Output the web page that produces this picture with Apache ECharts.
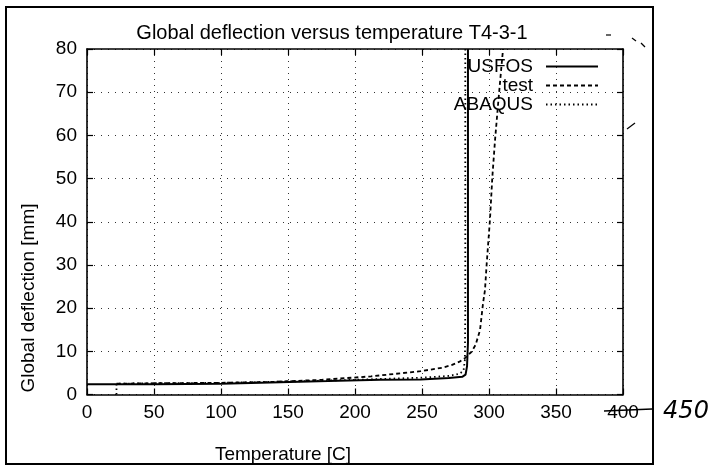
<!DOCTYPE html>
<html>
<head>
<meta charset="utf-8">
<script src="https://cdn.jsdelivr.net/npm/echarts@6/dist/echarts.min.js"></script>
<style>html,body{margin:0;padding:0;background:#fff}#c{width:718px;height:466px}</style>
</head>
<body>
<div id="c"></div>
<script>
// Data
const xTicks = [0, 50, 100, 150, 200, 250, 300, 350, 400];
const yTicks = [0, 10, 20, 30, 40, 50, 60, 70, 80];
const usfos = [[0,2.4],[50,2.4],[100,2.5],[137,2.8],[180,3.1],[219,3.4],[249,3.5],[270,3.8],[280,4.1],[282.5,4.6],[283.6,6.5],[284.3,12],[284.3,80]];
const test = [[22,2.5],[50,2.6],[100,2.7],[137,2.9],[175,3.4],[212,4.2],[249,5.4],[265,6.2],[272,6.8],[278,7.6],[282,8.4],[287,9.9],[290,11.5],[293.3,14.9],[295.5,21],[297,24.2],[298.3,30.4],[300.7,40.4],[302.5,50.4],[304.5,58.9],[307,68],[309.5,76.7],[310.5,80]];
const abaqus = [[22,0],[22,2.5],[50,2.6],[100,2.7],[150,3.0],[200,3.4],[250,3.9],[270,4.3],[278,4.8],[281,5.5],[282,8],[282.3,20],[282.3,80]];
const seriesNames = ['USFOS', 'test', 'ABAQUS'];

const FONT = '"Liberation Sans", Arial, Helvetica, sans-serif';
const FS = 19;
const chart = echarts.init(document.getElementById('c'), null, {renderer: 'canvas'});

const axisCommon = {
  min: 0,
  axisLine: {show: true, onZero: false, lineStyle: {color: '#000', width: 1.6}},
  axisTick: {show: true, inside: true, length: 6, lineStyle: {color: '#000', width: 1.2}},
};
const lineStyles = [
  {color: '#000', width: 2, type: 'solid'},
  {color: '#000', width: 1.8, type: [4, 3]},
  {color: '#000', width: 1.8, type: [1.5, 3]}
];
const dataSets = [usfos, test, abaqus];
const legendTops = [52, 71, 90];

chart.setOption({
  animation: false,
  backgroundColor: '#fff',
  title: {
    text: 'Global deflection versus temperature T4-3-1',
    left: 327, top: 18, textAlign: 'center',
    textStyle: {fontFamily: FONT, fontSize: 20, fontWeight: 'normal', color: '#000'}
  },
  grid: {left: 87, right: 95, top: 49, bottom: 71.5},
  legend: seriesNames.map((n, i) => ({
    data: [n], right: 114, top: legendTops[i], align: 'right',
    itemWidth: 52, itemHeight: 10, selectedMode: false,
    itemStyle: {opacity: 0},
    textStyle: {fontFamily: FONT, fontSize: FS, color: '#000', padding: [0, 8, 0, 0]}
  })),
  xAxis: [
    Object.assign({}, axisCommon, {
      type: 'value', max: 400, interval: 50, position: 'bottom',
      axisLabel: {margin: 9, fontFamily: FONT, fontSize: FS, color: '#000',
        formatter: v => xTicks.includes(v) ? String(v) : ''},
      splitLine: {show: true, lineStyle: {color: '#333', width: 1, type: [1, 5]}}
    }),
    Object.assign({}, axisCommon, {
      type: 'value', max: 400, interval: 50, position: 'top',
      axisLabel: {show: false}, splitLine: {show: false}
    })
  ],
  yAxis: [
    Object.assign({}, axisCommon, {
      type: 'value', max: 80, interval: 10, position: 'left',
      axisLabel: {margin: 10, fontFamily: FONT, fontSize: FS, color: '#000',
        formatter: v => yTicks.includes(v) ? String(v) : ''},
      splitLine: {show: true, lineStyle: {color: '#333', width: 1, type: [1, 6]}}
    }),
    Object.assign({}, axisCommon, {
      type: 'value', max: 80, interval: 10, position: 'right',
      axisLabel: {show: false}, splitLine: {show: false}
    })
  ],
  series: seriesNames.map((n, i) => ({
    name: n, type: 'line', data: dataSets[i], symbol: 'none', showSymbol: false,
    xAxisIndex: 0, yAxisIndex: 0, lineStyle: lineStyles[i], itemStyle: {color: '#000'},
    z: 3 - i
  })),
  graphic: [
    {type: 'rect', shape: {x: 6, y: 7, width: 647, height: 457}, style: {fill: 'none', stroke: '#000', lineWidth: 2}, silent: true},
    {type: 'text', x: 283, y: 455, style: {text: 'Temperature [C]', font: FS + 'px ' + FONT, fill: '#000', textAlign: 'center', textVerticalAlign: 'middle'}},
    {type: 'text', x: 29, y: 298, rotation: Math.PI / 2, style: {text: 'Global deflection [mm]', font: FS + 'px ' + FONT, fill: '#000', textAlign: 'center', textVerticalAlign: 'middle'}},
    {type: 'line', shape: {x1: 604, y1: 411, x2: 652, y2: 409}, style: {stroke: '#000', lineWidth: 1.5}},
    {type: 'text', x: 686, y: 412, style: {text: '450', font: 'italic 24px "DejaVu Sans", sans-serif', fill: '#000', textAlign: 'center', textVerticalAlign: 'middle'}},
    {type: 'line', shape: {x1: 606, y1: 35, x2: 611, y2: 35}, style: {stroke: '#000', lineWidth: 1.2}},
    {type: 'line', shape: {x1: 632, y1: 38, x2: 636, y2: 41}, style: {stroke: '#000', lineWidth: 1.2}},
    {type: 'line', shape: {x1: 641, y1: 43, x2: 645, y2: 47}, style: {stroke: '#000', lineWidth: 1.2}},
    {type: 'line', shape: {x1: 627, y1: 129, x2: 635, y2: 123}, style: {stroke: '#000', lineWidth: 1.2}}
  ]
});
</script>
</body>
</html>
